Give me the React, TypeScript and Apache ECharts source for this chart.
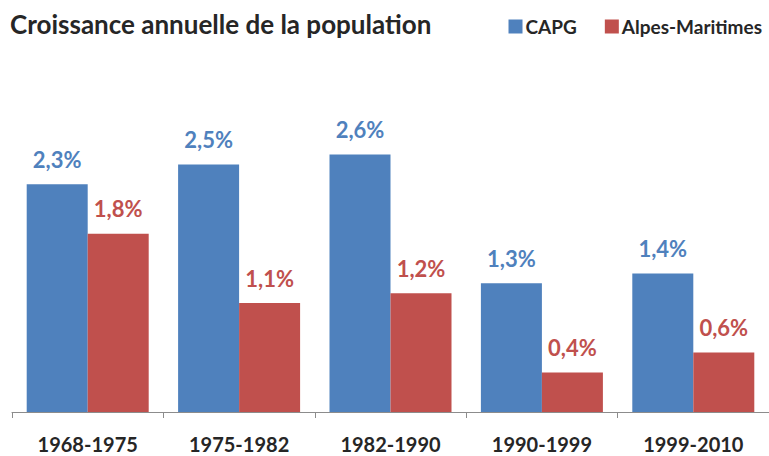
import React, { useEffect, useRef } from "react";
import * as echarts from "echarts";

const categories = ["1968-1975", "1975-1982", "1982-1990", "1990-1999", "1999-2010"];
const capg = [2.3, 2.5, 2.6, 1.3, 1.4];
const alpesMaritimes = [1.8, 1.1, 1.2, 0.4, 0.6];
const seriesNames = ["CAPG", "Alpes-Maritimes"];

const BLUE = "#4F81BD";
const RED = "#C0504D";
const FONT = "Lato, 'Open Sans', sans-serif";

export default function App() {
  const ref = useRef<HTMLDivElement>(null);
  useEffect(() => {
    const chart = echarts.init(ref.current!, null, { renderer: "svg" });
    const fmt = (p: any) => String(p.value).replace(".", ",") + "%";
    const labelStyle = (color: string) => ({
      show: true,
      position: "top",
      distance: 14,
      formatter: fmt,
      fontFamily: FONT,
      fontSize: 22,
      fontWeight: "bold",
      color,
    });
    chart.setOption({
      animation: false,
      backgroundColor: "#ffffff",
      title: {
        text: "Croissance annuelle de la population",
        left: -3,
        top: 6,
        textStyle: { fontFamily: FONT, fontSize: 26, fontWeight: "bold", color: "#262626" },
      },
      legend: {
        right: 2,
        top: 12,
        itemWidth: 14,
        itemHeight: 14,
        itemGap: 28,
        icon: "rect",
        textStyle: { fontFamily: FONT, fontSize: 19, fontWeight: "bold", color: "#262626", padding: [0, 0, 0, -2] },
        data: seriesNames,
      },
      grid: { left: 4, right: -8, top: 115, bottom: 44, containLabel: false },
      xAxis: {
        type: "category",
        data: categories,
        axisLine: { lineStyle: { color: "#8c8c8c", width: 1 } },
        axisTick: { show: true, length: 6, lineStyle: { color: "#8c8c8c" } },
        axisLabel: {
          fontFamily: FONT,
          fontSize: 20,
          fontWeight: "bold",
          color: "#262626",
          margin: 22,
        },
      },
      yAxis: {
        type: "value",
        min: 0,
        max: 3,
        show: false,
        splitLine: { show: false },
      },
      series: [
        {
          name: seriesNames[0],
          type: "bar",
          data: capg,
          barWidth: 61,
          barGap: "0%",
          itemStyle: { color: BLUE },
          label: labelStyle(BLUE),
        },
        {
          name: seriesNames[1],
          type: "bar",
          data: alpesMaritimes,
          barWidth: 61,
          barGap: "0%",
          itemStyle: { color: RED },
          label: labelStyle(RED),
        },
      ],
    });
    return () => chart.dispose();
  }, []);
  return <div ref={ref} style={{ width: 761, height: 456, position: "absolute", left: 8, top: 0 }} />;
}
